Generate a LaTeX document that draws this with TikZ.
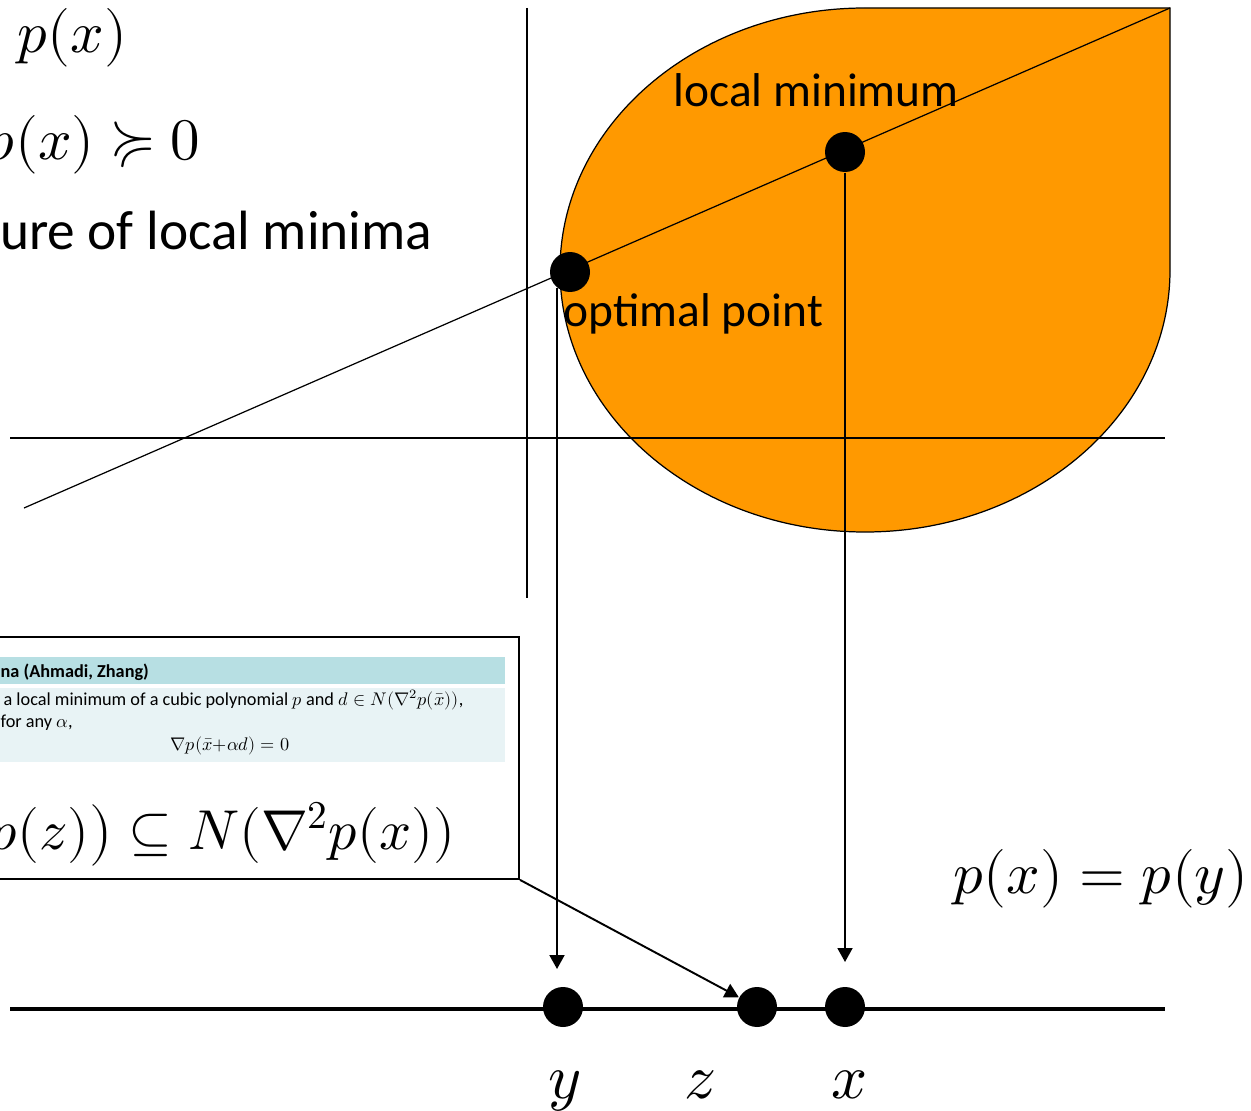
\documentclass[tikz,border=0pt]{standalone}
\usepackage{unicode-math}
\setmainfont{Carlito}
\setmathfont{Latin Modern Math}
\usetikzlibrary{arrows.meta}

\definecolor{dropfill}{RGB}{255,153,0}
\definecolor{lemmahead}{RGB}{183,223,227}
\definecolor{lemmabody}{RGB}{232,243,245}

\begin{document}
\begin{tikzpicture}[x=0.02cm,y=-0.02cm,line width=0.7pt,
  >={Triangle[length=0.28cm,width=0.3cm]},
  dot/.style={circle,fill=black,inner sep=0pt,minimum size=0.8cm},
  lbl/.style={inner sep=0pt,font=\fontsize{27}{32}\selectfont},
  bigmath/.style={inner sep=0pt,font=\fontsize{33.5}{40}\selectfont},
  varlbl/.style={inner sep=0pt,font=\fontsize{36}{42}\selectfont},
  lemmatext/.style={inner sep=0pt,font=\fontsize{10.4}{12.5}\selectfont},
  link/.style={->,line width=1.1pt}]
\useasboundingbox (0,0) rectangle (1251,1111);
\clip (0,0) rectangle (1251,1111);
% ---------- sublevel set and axes ----------
\draw[fill=dropfill] (865,8) -- (1170,8) -- (1170,270)
    arc[start angle=0,end angle=270,x radius=305,y radius=262] -- cycle;
\draw (527,8) -- (527,598);
\draw (10,438) -- (1165,438);
\coordinate (corner) at (1170,8);
\coordinate (tail) at (24,508);
\draw (corner) -- (tail);
\node[dot] (mindot) at (845,152) {};
\node[dot] (optdot) at (570,272) {};
\node[lbl,anchor=base west] (minlbl) at (673,107) {local minimum};
\node[lbl,anchor=base west] (optlbl) at (563,327) {optimal point};
% ---------- slide text ----------
\node[bigmath,anchor=base east] (objective) at (128,53) {$p(x)$};
\node[bigmath,anchor=base east] (psd) at (201,160) {$p(x)\succcurlyeq 0$};
\node[lbl,anchor=base east,font=\fontsize{31.5}{38}\selectfont] (structure) at (433,250) {ure of local minima};
% ---------- lemma box ----------
\fill[lemmahead] (-10,657) rectangle (505,684);
\fill[lemmabody] (-10,688) rectangle (505,762);
\node[draw,line width=1.1pt,anchor=north east,inner sep=0pt,
      minimum width=16cm,minimum height=4.84cm] (lemma) at (520,636) {};
\node[lemmatext,anchor=base west] (lemhead) at (0,677) {\bfseries na (Ahmadi, Zhang)};
\node[lemmatext,anchor=base west] (lemline1) at (3,705)
    {a local minimum of a cubic polynomial $p$ and $d\in N(\nabla^2p(\bar{x}))$,};
\node[lemmatext,anchor=base west] (lemline2) at (0,727) {for any $\alpha$,};
\node[lemmatext,anchor=base] (lemeq) at (230,750) {$\nabla p(\bar{x}{+}\alpha d)=0$};
\node[bigmath,anchor=base east,font=\fontsize{32}{38}\selectfont] (nullinc) at (456,849)
    {$p(z)\big)\subseteq N(\nabla^2p(x))$};
% ---------- number line ----------
\draw[line width=2.3pt] (10,1009) -- (1165,1009);
\node[dot] (ydot) at (563,1007) {};
\node[dot] (zdot) at (757,1007) {};
\node[dot] (xdot) at (845,1007) {};
\node[varlbl,anchor=base] (ylbl) at (565,1098) {$y$};
\node[varlbl,anchor=base] (zlbl) at (700,1098) {$z$};
\node[varlbl,anchor=base] (xlbl) at (850,1098) {$x$};
\node[bigmath,anchor=base east] (equal) at (1249,893) {$p(x)=p(y)$};
% projections
\coordinate (optfoot) at (557,288);
\coordinate (yhead) at (557,969);
\coordinate (xhead) at (845,962);
\draw[link] (optfoot) -- (yhead);
\draw[link] (mindot) -- (xhead);
\draw[link] (lemma.south east) -- (zdot);
\end{tikzpicture}
\end{document}
